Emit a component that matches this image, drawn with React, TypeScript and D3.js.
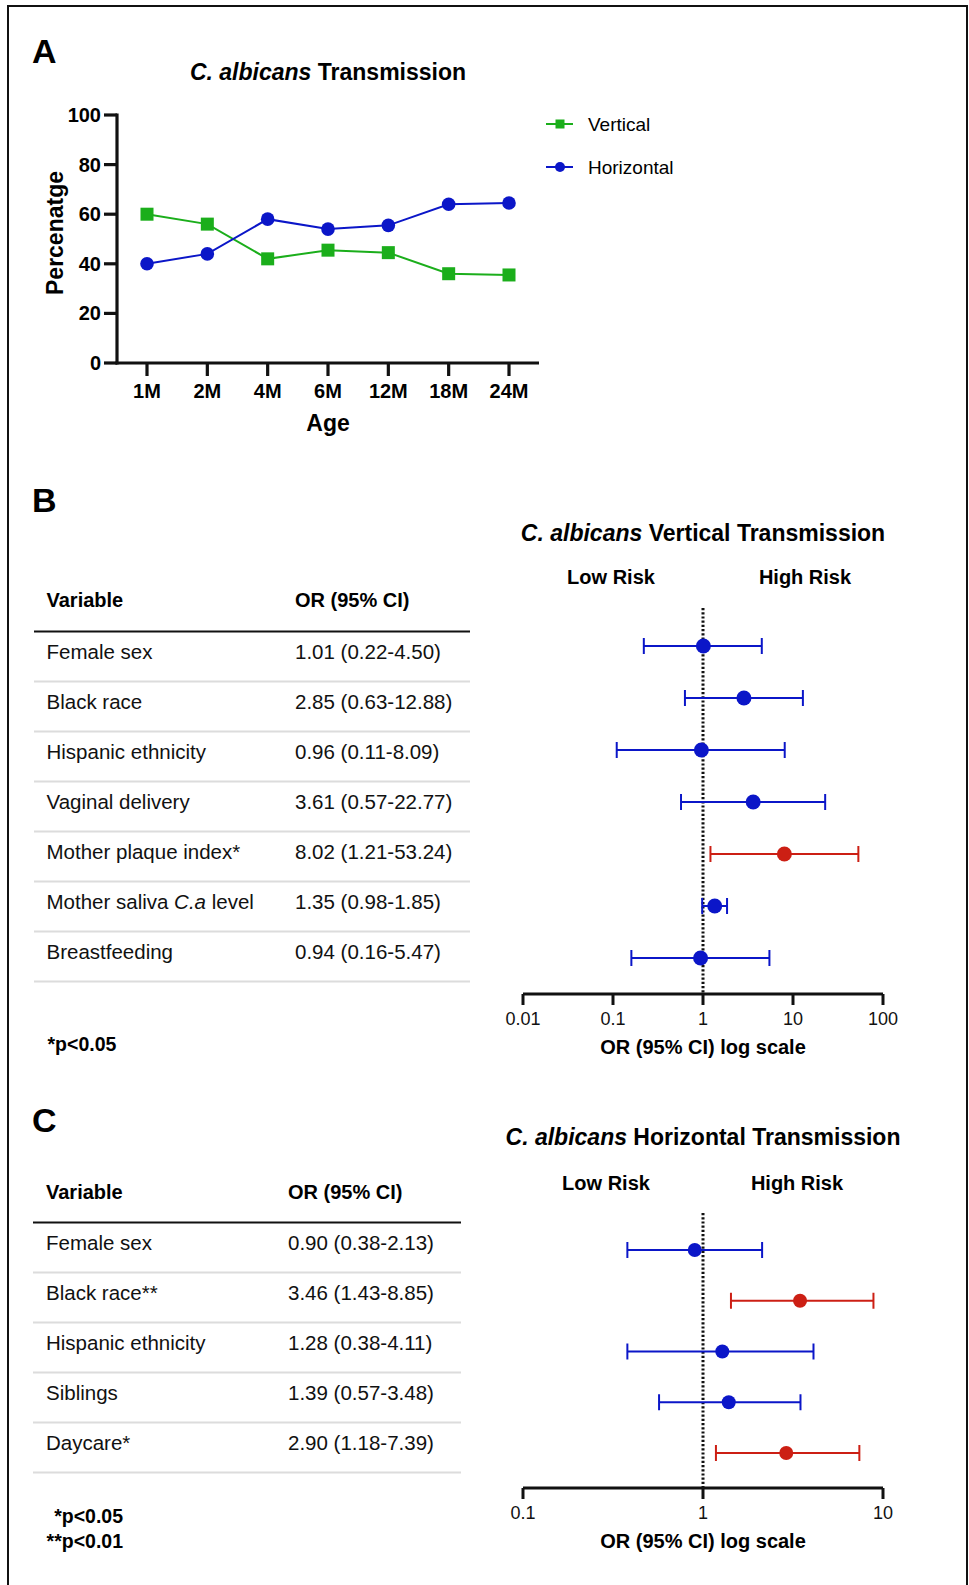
import React from "react";
import * as d3 from "d3";

// ---------- Panel A data ----------
const ages = ["1M", "2M", "4M", "6M", "12M", "18M", "24M"];
const verticalPct = [60, 56, 42, 45.5, 44.5, 36, 35.5];
const horizontalPct = [40, 44, 58, 54, 55.5, 64, 64.5];
const yTicksA = [0, 20, 40, 60, 80, 100];

// ---------- Panel B data ----------
const varsB = [
  "Female sex",
  "Black race",
  "Hispanic ethnicity",
  "Vaginal delivery",
  "Mother plaque index*",
  "Mother saliva C.a level",
  "Breastfeeding",
];
const orB = [1.01, 2.85, 0.96, 3.61, 8.02, 1.35, 0.94];
const loB = [0.22, 0.63, 0.11, 0.57, 1.21, 0.98, 0.16];
const hiB = [4.5, 12.88, 8.09, 22.77, 53.24, 1.85, 5.47];
const sigB = [false, false, false, false, true, false, false];
const ticksB = [0.01, 0.1, 1, 10, 100];
const tickLabelsB = ["0.01", "0.1", "1", "10", "100"];

// ---------- Panel C data ----------
const varsC = ["Female sex", "Black race**", "Hispanic ethnicity", "Siblings", "Daycare*"];
const orC = [0.9, 3.46, 1.28, 1.39, 2.9];
const loC = [0.38, 1.43, 0.38, 0.57, 1.18];
const hiC = [2.13, 8.85, 4.11, 3.48, 7.39];
const sigC = [false, true, false, false, true];
const ticksC = [0.1, 1, 10];
const tickLabelsC = ["0.1", "1", "10"];

const FONT = "'Liberation Sans', Arial, Helvetica, sans-serif";
const GREEN = "#1bae1b";
const BLUE = "#0b16c8";
const RED = "#cc1f14";

const fmt = (v: number) => v.toFixed(2);

function VarLabel({ name }: { name: string }) {
  if (name.includes("C.a")) {
    const [a, b] = name.split("C.a");
    return (
      <>
        {a}
        <tspan fontStyle="italic">C.a</tspan>
        {b}
      </>
    );
  }
  return <>{name}</>;
}

function Table(props: {
  names: string[];
  or: number[];
  lo: number[];
  hi: number[];
  x0: number;
  xVal: number;
  xL: number;
  xR: number;
  headY: number;
  ruleY: number;
}) {
  const { names, or, lo, hi, x0, xVal, xL, xR, headY, ruleY } = props;
  return (
    <g fontFamily={FONT}>
      <text x={x0} y={headY} fontSize={20} fontWeight="bold">Variable</text>
      <text x={xVal} y={headY} fontSize={20} fontWeight="bold">OR (95% CI)</text>
      {names.map((n, i) => (
        <g key={n}>
          <text x={x0} y={ruleY + 27 + 50 * i} fontSize={20.5} fill="#111">
            <VarLabel name={n} />
          </text>
          <text x={xVal} y={ruleY + 27 + 50 * i} fontSize={20.5} fill="#111">
            {`${fmt(or[i])} (${fmt(lo[i])}-${fmt(hi[i])})`}
          </text>
          <line x1={xL} x2={xR} y1={ruleY + 50 * (i + 1)} y2={ruleY + 50 * (i + 1)} stroke="#dcdcdc" strokeWidth={2} />
        </g>
      ))}
      <line x1={xL} x2={xR} y1={ruleY} y2={ruleY} stroke="#111" strokeWidth={2.2} />
    </g>
  );
}

function Forest(props: {
  names: string[];
  or: number[];
  lo: number[];
  hi: number[];
  sig: boolean[];
  domain: [number, number];
  ticks: number[];
  tickLabels: string[];
  rowTop: number;
  rowBottom: number;
  axisY: number;
  dotTop: number;
  titleY: number;
  riskY: number;
  lowX: number;
  highX: number;
  title: string;
  r: number;
}) {
  const p = props;
  const x = d3.scaleLog().domain(p.domain).range([523, 883]);
  const y = d3.scalePoint<string>().domain(p.names).range([p.rowTop, p.rowBottom]);
  const one = x(1);
  return (
    <g fontFamily={FONT}>
      <text x={703} y={p.titleY} fontSize={23} fontWeight="bold" textAnchor="middle">
        <tspan fontStyle="italic">C. albicans</tspan> {p.title}
      </text>
      <text x={p.lowX} y={p.riskY} fontSize={20} fontWeight="bold" textAnchor="middle">Low Risk</text>
      <text x={p.highX} y={p.riskY} fontSize={20} fontWeight="bold" textAnchor="middle">High Risk</text>
      <line x1={one} x2={one} y1={p.dotTop} y2={p.axisY} stroke="#111" strokeWidth={3} strokeDasharray="2.2,2" />
      {p.names.map((n, i) => {
        const c = p.sig[i] ? RED : BLUE;
        const yy = y(n)!;
        return (
          <g key={n}>
            <line x1={x(p.lo[i])} x2={x(p.hi[i])} y1={yy} y2={yy} stroke={c} strokeWidth={2} />
            <line x1={x(p.lo[i])} x2={x(p.lo[i])} y1={yy - 8} y2={yy + 8} stroke={c} strokeWidth={2} />
            <line x1={x(p.hi[i])} x2={x(p.hi[i])} y1={yy - 8} y2={yy + 8} stroke={c} strokeWidth={2} />
            <circle cx={x(p.or[i])} cy={yy} r={p.r} fill={c} />
          </g>
        );
      })}
      <line x1={523} x2={883} y1={p.axisY} y2={p.axisY} stroke="#111" strokeWidth={3} />
      {p.ticks.map((t, i) => (
        <g key={t}>
          <line x1={x(t)} x2={x(t)} y1={p.axisY} y2={p.axisY + 11} stroke="#111" strokeWidth={3} />
          <text x={x(t)} y={p.axisY + 31} fontSize={18} textAnchor="middle" fill="#111">{p.tickLabels[i]}</text>
        </g>
      ))}
      <text x={703} y={p.axisY + 60} fontSize={20} fontWeight="bold" textAnchor="middle">OR (95% CI) log scale</text>
    </g>
  );
}

export default function App() {
  const W = 969;
  const H = 1585;
  const xA = d3.scalePoint<string>().domain(ages).range([147, 509]);
  const yA = d3.scaleLinear().domain([0, 100]).range([363, 115]);
  const lineGen = d3
    .line<number>()
    .x((_, i) => xA(ages[i])!)
    .y((d) => yA(d));

  return (
    <div style={{ position: "absolute", left: 0, top: 0 }}>
      <svg width={W} height={H} viewBox={`0 0 ${W} ${H}`} style={{ display: "block", background: "#fff" }}>
        <rect x={0} y={0} width={W} height={H} fill="#fff" />
        {/* frame */}
        <path d={`M8,${H} L8,6 L967,6 L967,${H}`} fill="none" stroke="#111" strokeWidth={2} />

        {/* ===== Panel A ===== */}
        <g fontFamily={FONT}>
          <text x={32} y={63} fontSize={34} fontWeight="bold">A</text>
          <text x={328} y={80} fontSize={23} fontWeight="bold" textAnchor="middle">
            <tspan fontStyle="italic">C. albicans</tspan> Transmission
          </text>
          {/* lines */}
          <path d={lineGen(verticalPct)!} fill="none" stroke={GREEN} strokeWidth={2} />
          <path d={lineGen(horizontalPct)!} fill="none" stroke={BLUE} strokeWidth={2} />
          {verticalPct.map((v, i) => (
            <rect key={"v" + i} x={xA(ages[i])! - 6.5} y={yA(v) - 6.5} width={13} height={13} fill={GREEN} />
          ))}
          {horizontalPct.map((v, i) => (
            <circle key={"h" + i} cx={xA(ages[i])!} cy={yA(v)} r={6.8} fill={BLUE} />
          ))}
          {/* axes */}
          <line x1={117} x2={117} y1={yA(100) - 1.5} y2={yA(0) + 1.5} stroke="#111" strokeWidth={3.2} />
          <line x1={115.5} x2={539} y1={yA(0)} y2={yA(0)} stroke="#111" strokeWidth={3.2} />
          {yTicksA.map((t) => (
            <g key={t}>
              <line x1={104} x2={117} y1={yA(t)} y2={yA(t)} stroke="#111" strokeWidth={3.2} />
              <text x={101} y={yA(t) + 7} fontSize={20} fontWeight="bold" textAnchor="end">{t}</text>
            </g>
          ))}
          {ages.map((a) => (
            <g key={a}>
              <line x1={xA(a)!} x2={xA(a)!} y1={yA(0)} y2={yA(0) + 13} stroke="#111" strokeWidth={3.2} />
              <text x={xA(a)!} y={398} fontSize={20} fontWeight="bold" textAnchor="middle">{a}</text>
            </g>
          ))}
          <text transform="translate(63,233) rotate(-90)" fontSize={23} fontWeight="bold" textAnchor="middle">Percenatge</text>
          <text x={328} y={431} fontSize={23} fontWeight="bold" textAnchor="middle">Age</text>
          {/* legend */}
          <line x1={546} x2={573} y1={124} y2={124} stroke={GREEN} strokeWidth={2} />
          <rect x={555.5} y={119.5} width={9} height={9} fill={GREEN} />
          <text x={588} y={131} fontSize={19}>Vertical</text>
          <line x1={546} x2={573} y1={167} y2={167} stroke={BLUE} strokeWidth={2} />
          <circle cx={560} cy={167} r={5} fill={BLUE} />
          <text x={588} y={174} fontSize={19}>Horizontal</text>
        </g>

        {/* ===== Panel B ===== */}
        <text x={32} y={512} fontSize={34} fontWeight="bold" fontFamily={FONT}>B</text>
        <Table names={varsB} or={orB} lo={loB} hi={hiB} x0={46.5} xVal={295} xL={34} xR={470} headY={607} ruleY={631.5} />
        <text x={47.5} y={1051} fontSize={19.5} fontWeight="bold" fontFamily={FONT}>*p&lt;0.05</text>
        <Forest
          names={varsB} or={orB} lo={loB} hi={hiB} sig={sigB}
          domain={[0.01, 100]} ticks={ticksB} tickLabels={tickLabelsB}
          rowTop={646} rowBottom={958} axisY={994} dotTop={608}
          titleY={541} riskY={584} lowX={611} highX={805}
          title="Vertical Transmission" r={7.5}
        />

        {/* ===== Panel C ===== */}
        <text x={32} y={1132} fontSize={34} fontWeight="bold" fontFamily={FONT}>C</text>
        <Table names={varsC} or={orC} lo={loC} hi={hiC} x0={46} xVal={288} xL={33} xR={461} headY={1199} ruleY={1222.5} />
        <text x={123} y={1523} fontSize={19.5} fontWeight="bold" textAnchor="end" fontFamily={FONT}>*p&lt;0.05</text>
        <text x={123} y={1548} fontSize={19.5} fontWeight="bold" textAnchor="end" fontFamily={FONT}>**p&lt;0.01</text>
        <Forest
          names={varsC} or={orC} lo={loC} hi={hiC} sig={sigC}
          domain={[0.1, 10]} ticks={ticksC} tickLabels={tickLabelsC}
          rowTop={1250} rowBottom={1453} axisY={1488} dotTop={1213}
          titleY={1145} riskY={1190} lowX={606} highX={797}
          title="Horizontal Transmission" r={7}
        />
      </svg>
    </div>
  );
}
